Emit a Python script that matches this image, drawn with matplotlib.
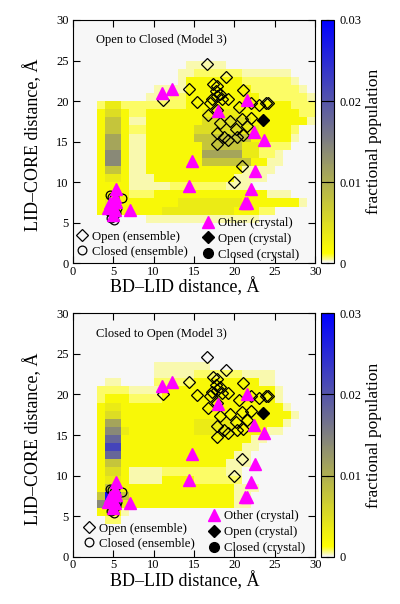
import numpy as np
import matplotlib.pyplot as plt
from matplotlib.colors import LinearSegmentedColormap

# --- population maps, 1 A bins, x = BD-LID (0..30), y = LID-CORE (0..30) ---
# rows run from y = 29..30 (top) down to y = 0..1 (bottom), one char per bin
levels = {'.': 0.0, '1': 0.0004, '2': 0.0008, '3': 0.002, '4': 0.0035, '5': 0.005,
          '6': 0.0075, '7': 0.011, '8': 0.014, '9': 0.018, 'a': 0.022, 'b': 0.028}

rows_open_to_closed = [
    "..............................",
    "..............................",
    "..............................",
    "..............................",
    "..............................",
    ".............." "11111" "...........",
    "............." "11222222111111" "...",
    "............." "1" "3333333" "222222" "1" "..",
    ".........." "1111" "33333333" "222222" "1" ".",
    "........." "11122" "333333333" "222222" "1",
    "...2" "44" "22222222" "3333333333333" "222",
    "...3" "55" "3" "22" "33333" "33" "44444" "3333333" "22",
    "...3" "66" "3" "11" "33333" "33" "555555" "3333333" "1",
    "...3" "66" "3" "22" "333333" "555555" "44" "3333" "2" "..",
    "...3" "77" "3" "11" "333333" "6666666" "33333" "1" "..",
    "...3" "77" "3" "11" "3333333" "66666" "44" "2222" "...",
    "...3" "88" "3" "11" "3333333" "77777" "44" "22" "1" "....",
    "...3" "88" "3" "11" "3333333" "666666" "33" "11" "....",
    "...3" "66" "3" "11" "333333333333" "1111" ".....",
    "...3" "44" "3" "111" "3333333333" "1111" "......",
    "...3333" "11111" "2222222" "111" "........",
    "...3333" "222" "33333333333333" "111" "...",
    "...3" "44" "3333333" "44444444" "3333333" "1" ".",
    "...33333333" "444444444" "333" "22" ".....",
    "........." "11111111111111" ".......",
    "..............................",
    "..............................",
    "..............................",
    "..............................",
    "..............................",
]

rows_closed_to_open = [
    "..............................",
    "..............................",
    "..............................",
    "..............................",
    "..............................",
    "..............................",
    ".........." "1111111" ".............",
    ".........." "11111" "222222" "1111" ".....",
    "...." "11" "...." "22222" "33333333" "11" ".....",
    "..." "2222" "1111" "3333" "3333333333" "1" "....",
    "..." "2" "33" "3" "2222" "33333333333333" "1" "....",
    "..." "3" "44" "33333333333333333333" "1" "...",
    "..." "3" "55" "333333333333333333333" "1" "..",
    "..." "3" "77" "333333333" "44444" "333333" "1" "...",
    "..." "3" "88" "4" "33333333" "44444" "3333" "11" "....",
    "..." "3" "99" "3" "333333333333333" "11" "......",
    "..." "3" "aa" "333333333333333" "11" ".......",
    "..." "3" "99" "33333333333333" "11" "........",
    "..." "3" "66" "3333333333333" "111" "........",
    "..." "3" "55" "3" "1111" "2222" "2222" "11" ".........",
    "..." "3" "44" "3" "1111" "3333" "222222" ".........",
    "..." "3" "66" "33333333333333" "111" ".......",
    "..." "6" "bb" "6" "3333333333333" "11" "........",
    "..." "8" "99" "4" "3333333333333" "11" "........",
    "..." "3" "33" "1" ".......................",
    "...." "22" "........................",
    "..............................",
    "..............................",
    "..............................",
    "..............................",
]

# --- structures ---
open_ens_x = [16.6, 18.9, 14.4, 11.2, 15.4, 17.4, 17.9, 17.7, 17.2, 17.0, 17.9, 18.2,
              18.5, 19.2, 16.7, 17.9, 18.2, 19.4, 17.9, 17.9, 18.7, 19.2, 20.2, 20.3,
              20.6, 21.1, 21.0, 21.1, 21.5, 22.0, 22.0, 23.0, 23.9, 24.1, 20.9, 20.0]
open_ens_y = [24.6, 23.0, 21.5, 20.1, 19.9, 22.1, 21.9, 21.2, 20.3, 19.8, 20.6, 20.9,
              20.2, 20.2, 18.3, 18.9, 17.3, 17.6, 16.1, 14.7, 15.6, 15.2, 16.6, 15.6,
              19.3, 21.4, 17.8, 15.8, 16.9, 17.9, 19.8, 19.5, 19.8, 19.8, 12.0, 10.0]

closed_ens_x = [4.6, 4.9, 5.1, 6.1, 4.7, 5.1, 5.0, 4.5, 5.3, 4.8, 5.5]
closed_ens_y = [8.4, 8.2, 8.0, 8.0, 5.6, 5.4, 5.9, 6.5, 6.2, 7.2, 6.8]

other_x = [11.0, 12.3, 18.0, 21.6, 22.4, 23.7, 14.8, 14.4, 22.6, 22.1, 21.3, 21.6,
           5.3, 7.1, 5.2, 4.8, 4.4, 5.2, 5.0, 4.6, 5.4]
other_y = [21.0, 21.5, 18.8, 20.1, 16.2, 15.2, 12.6, 9.5, 11.4, 9.2, 7.4, 7.4,
           9.2, 6.6, 8.2, 7.2, 6.8, 6.6, 6.0, 7.4, 7.6]

open_cry_x = [23.5]
open_cry_y = [17.7]
closed_cry_x = [4.9]
closed_cry_y = [6.9]

titles = ["Open to Closed (Model 3)", "Closed to Open (Model 3)"]
maps = [rows_open_to_closed, rows_closed_to_open]

cmap = LinearSegmentedColormap.from_list(
    'pop', [(0.0, '#f7f7f7'), (0.04, '#ffff00'), (0.5, '#808080'), (1.0, '#0000ff')])

plt.rcParams['font.family'] = ['Liberation Serif', 'DejaVu Serif']

fig = plt.figure(figsize=(4.0, 6.04), dpi=100)
ax_boxes = [[0.182, 0.564, 0.606, 0.403], [0.182, 0.0783, 0.606, 0.403]]
cb_boxes = [[0.8025, 0.564, 0.0325, 0.403], [0.8025, 0.0783, 0.0325, 0.403]]
leg_left = [(0.0, 0.015), (0.03, 0.02)]
leg_right = [(0.52, 0.0), (0.545, 0.0)]
edges = np.arange(0, 31)

for k in range(2):
    ax = fig.add_axes(ax_boxes[k])
    rows = [r[:30].ljust(30, '.') for r in maps[k]]
    grid = np.array([[levels[c] for c in r] for r in rows])[::-1]
    mesh = ax.pcolormesh(edges, edges, grid, cmap=cmap, vmin=0, vmax=0.03)

    h_open, = ax.plot(open_ens_x, open_ens_y, 'D', ms=5.8, mfc='none', mec='k',
                      mew=0.9, ls='none', label='Open (ensemble)')
    h_closed, = ax.plot(closed_ens_x, closed_ens_y, 'o', ms=6.3, mfc='none', mec='k',
                        mew=0.9, ls='none', label='Closed (ensemble)')
    h_ccry, = ax.plot(closed_cry_x, closed_cry_y, 'o', ms=7, color='k', ls='none',
                      label='Closed (crystal)')
    h_other, = ax.plot(other_x, other_y, '^', ms=8.5, color='#ff00ff', ls='none',
                       label='Other (crystal)')
    h_ocry, = ax.plot(open_cry_x, open_cry_y, 'D', ms=6.5, color='k', ls='none',
                      label='Open (crystal)')

    ax.set_xlim(0, 30)
    ax.set_ylim(0, 30)
    ax.set_xticks(range(0, 31, 5))
    ax.set_yticks(range(0, 31, 5))
    ax.tick_params(direction='in', length=5, width=0.8, top=True, right=True,
                   labelsize=9)
    ax.tick_params(axis='x', pad=2)
    ax.tick_params(axis='y', pad=3)
    for s in ax.spines.values():
        s.set_linewidth(0.8)
    ax.set_xlabel('BD–LID distance, Å', fontsize=13)
    ax.set_ylabel('LID–CORE distance, Å', fontsize=13)
    ax.xaxis.set_label_coords(0.461, -0.058)
    ax.yaxis.set_label_coords(-0.125, 0.486)
    ax.text(2.9, 27.5, titles[k], fontsize=9, va='center', ha='left')

    leg1 = ax.legend(handles=[h_open, h_closed], loc='lower left',
                     bbox_to_anchor=leg_left[k], frameon=False, fontsize=9.2,
                     handlelength=1.0, handletextpad=0.3, labelspacing=0.2,
                     borderpad=0.2, borderaxespad=0)
    ax.add_artist(leg1)
    ax.legend(handles=[h_other, h_ocry, h_ccry], loc='lower left',
              bbox_to_anchor=leg_right[k], frameon=False, fontsize=9.2,
              handlelength=1.0, handletextpad=0.3, labelspacing=0.3,
              borderpad=0.2, borderaxespad=0)

    cax = fig.add_axes(cb_boxes[k])
    cb = fig.colorbar(mesh, cax=cax, ticks=[0, 0.01, 0.02, 0.03])
    cb.ax.set_yticklabels(['0', '0.01', '0.02', '0.03'])
    cb.ax.tick_params(direction='in', length=6, width=0.8, left=True, right=True,
                      labelsize=9, pad=4)
    cb.outline.set_linewidth(0.8)
    cb.set_label('fractional population', fontsize=12.5, labelpad=3)

fig.savefig('out.png', dpi=100)
